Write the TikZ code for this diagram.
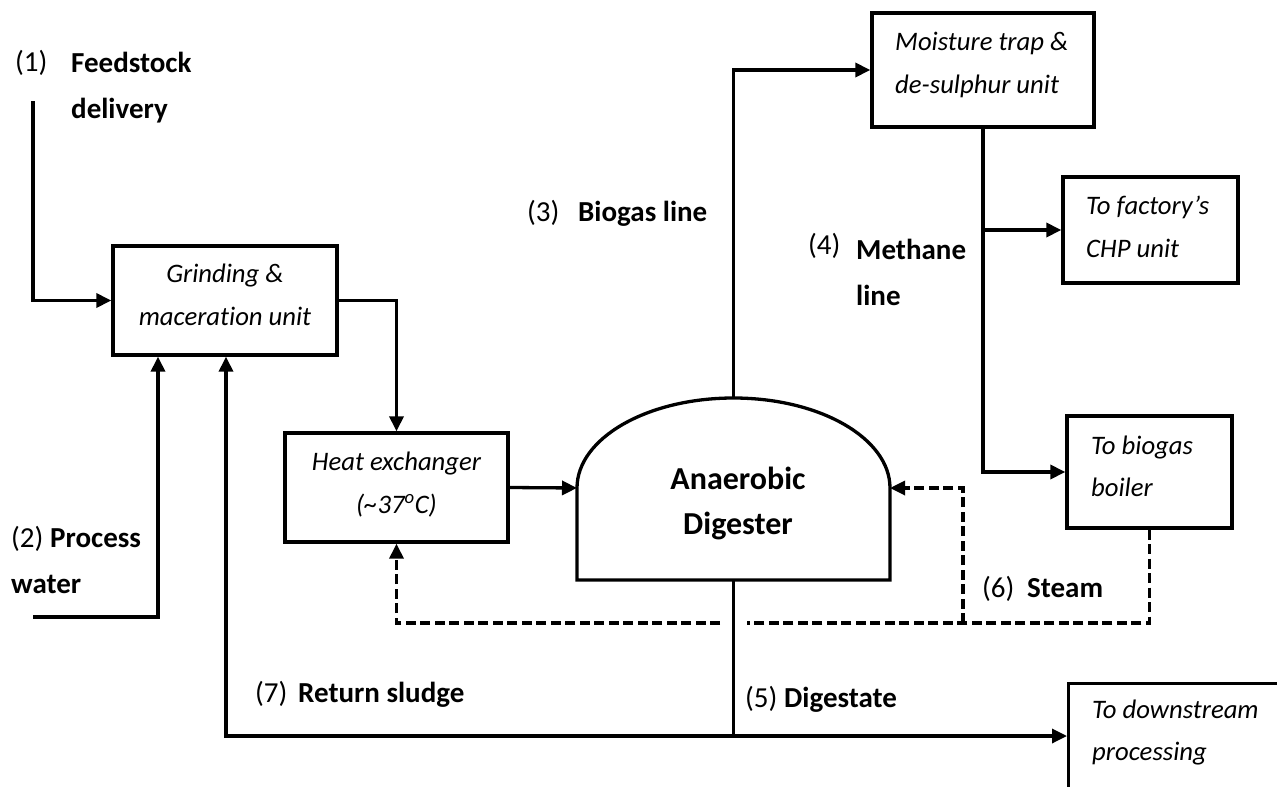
\documentclass[tikz,border=0pt]{standalone}
\usepackage{fontspec}
\setmainfont{Carlito}[Ligatures=NoCommon]
\usetikzlibrary{arrows.meta,calc}
\tikzset{
  box/.style={draw, line width=3.3pt, rectangle, inner sep=0pt},
  conn/.style={line width=3.3pt, -{Triangle[length=15pt,width=14pt]}},
  plain/.style={line width=3.3pt},
  steam/.style={line width=3.3pt, dash pattern=on 10pt off 4.5pt},
  tipped/.style={-{Triangle[length=15pt,width=14pt]}},
  lb/.style={inner sep=0pt, anchor=base west, font=\fontsize{29}{34}\selectfont\bfseries},
  num/.style={inner sep=0pt, anchor=base west, font=\fontsize{29}{34}\selectfont},
  bt/.style={inner sep=0pt, anchor=base west, font=\fontsize{26.7}{31}\selectfont\itshape},
  btc/.style={bt, anchor=base},
  digt/.style={inner sep=0pt, anchor=base, font=\fontsize{32}{37}\selectfont\bfseries},
}
\begin{document}
\begin{tikzpicture}[x=1pt,y=-1pt]
\useasboundingbox (0,0) rectangle (1277,787);
\clip (0,0) rectangle (1277,787);
\fill[white] (0,0) rectangle (1277,787);

% boxes
\node[box, minimum width=224pt, minimum height=109pt] (grind) at (225,300.5) {};
\node[box, minimum width=223pt, minimum height=109pt] (heat) at (396.5,487.5) {};
\node[box, minimum width=222pt, minimum height=114pt] (moist) at (983,70) {};
\node[box, minimum width=175pt, minimum height=106pt] (chp) at (1150.5,230) {};
\node[box, minimum width=165pt, minimum height=112pt] (boil) at (1149.5,472) {};
\node[box, minimum width=300pt, minimum height=200pt, anchor=north west] (down) at (1067,682) {};

% digester
\draw[plain] (577,580) -- (577,488) arc[start angle=180, end angle=0, x radius=156.5pt, y radius=90pt] -- (890,580) -- cycle;
\coordinate (digtop) at (733.5,398);
\coordinate (digleft) at (577,488);
\coordinate (digright) at (890,488);
\coordinate (digbot) at (733.5,580);
\node[digt] (dig1) at (738,489) {Anaerobic};
\node[digt] (dig2) at (738,534) {Digester};

% box texts
\node[btc] (g1) at (225,282) {Grinding \&};
\node[btc] (g2) at (225,325) {maceration unit};
\node[btc] (h1) at (396.5,470) {Heat exchanger};
\node[btc] (h2) at (396.5,513) {(\textasciitilde37\textsuperscript{o}C)};
\node[bt] (m1) at (895,50) {Moisture trap \&};
\node[bt] (m2) at (895,93) {de-sulphur unit};
\node[bt] (c1) at (1086,214) {To factory’s};
\node[bt] (c2) at (1086,257) {CHP unit};
\node[bt] (b1) at (1091,454) {To biogas};
\node[bt] (b2) at (1091,496) {boiler};
\node[bt] (d1) at (1092,718) {To downstream};
\node[bt] (d2) at (1092,760) {processing};

% labels
\node[num] (n1) at (15,71) {(1)};
\node[lb] (l1a) at (71,72) {Feedstock};
\node[lb] (l1b) at (71,118) {delivery};
\node[num] (n2) at (11,547) {(2)};
\node[lb] (l2a) at (50,547) {Process};
\node[lb] (l2b) at (11,593) {water};
\node[num] (n3) at (527,221) {(3)};
\node[lb] (l3) at (578,221) {Biogas line};
\node[num] (n4) at (808,254) {(4)};
\node[lb] (l4a) at (856,259) {Methane};
\node[lb] (l4b) at (856,305) {line};
\node[num] (n5) at (745,707) {(5)};
\node[lb] (l5) at (784,707) {Digestate};
\node[num] (n6) at (982,597) {(6)};
\node[lb] (l6) at (1027,597) {Steam};
\node[num] (n7) at (255,702) {(7)};
\node[lb] (l7) at (298,702) {Return sludge};

% connectors
\coordinate (feed) at (33,101);
\draw[conn] (feed) |- (grind.west);
\coordinate (pw) at (33,617);
\draw[conn] (pw) -| ([xshift=-67pt]grind.south);
\draw[conn] (grind.east) -| (heat.north);
\draw[conn] (heat.east) -- (digleft);
\draw[conn] (digtop) |- (moist.west);
\draw[conn] (moist.south) |- (boil.west);
\draw[conn] (moist.south |- chp.west) -- (chp.west);
\coordinate (junc) at (733.5,736);
\draw[plain] (digbot) -- (junc);
\draw[conn] (junc) -| ([xshift=1pt]grind.south);
\draw[conn] (junc) -- (junc -| down.west);

% steam
\coordinate (sj) at (963,623);
\coordinate (gapR) at (747,623);
\coordinate (gapL) at (720,623);
\draw[steam] (boil.south) |- (sj) -- (gapR);
\draw[steam, tipped] (sj) |- (digright);
\draw[steam, tipped] (gapL) -| (heat.south);
\end{tikzpicture}
\end{document}
